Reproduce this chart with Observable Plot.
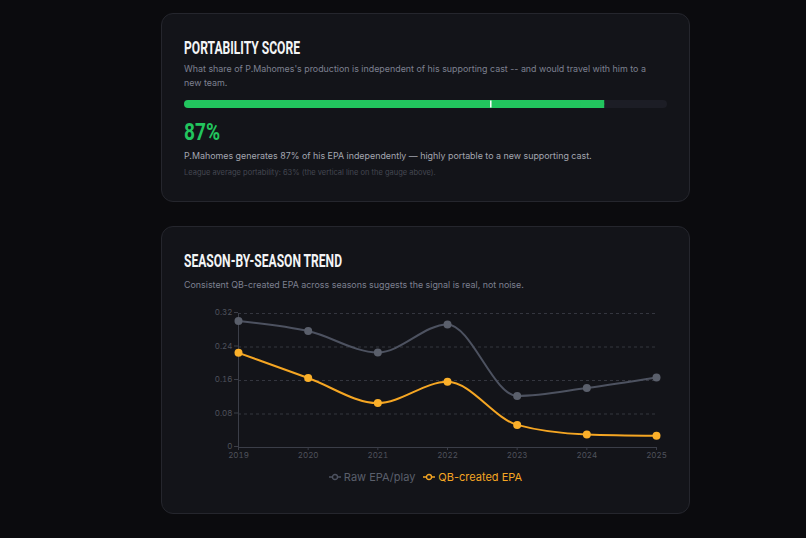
<!DOCTYPE html>
<html>
<head>
<meta charset="utf-8">
<script src="https://cdn.jsdelivr.net/npm/d3@7"></script>
<script src="https://cdn.jsdelivr.net/npm/@observablehq/plot@0.6"></script>
<style>
  html, body { margin: 0; padding: 0; background: #0b0b0e; }
  body { width: 806px; height: 538px; overflow: hidden; position: relative; font-family: Inter, "Noto Sans", sans-serif; }
  .wrap { position: absolute; left: 161px; top: 13px; width: 529px; }
  .card { box-sizing: border-box; background: #131419; border: 1px solid #25262d; border-radius: 12px; padding: 23px 22px 0 22px; }
  .card1 { height: 189px; }
  .card2 { height: 288px; margin-top: 24px; }
  .title { margin: 0; height: 22px; white-space: nowrap; font-family: Roboto, "Liberation Sans", sans-serif; font-weight: 700; font-size: 17.5px; line-height: 22px; color: #f3f4f6; }
  .title span, .big span { display: inline-block; transform-origin: 0 50%; }
  .sub { margin-top: 3px; font-size: 8.9px; line-height: 14px; color: #7d8090; max-width: 468px; }
  .gauge { margin-top: 10px; height: 8px; }
  .gauge svg { display: block; }
  .big { margin-top: 10px; height: 28px; white-space: nowrap; font-family: Roboto, "Liberation Sans", sans-serif; font-weight: 700; font-size: 24px; line-height: 28px; color: #22c55e; }
  .desc { margin-top: 3px; font-size: 8.9px; line-height: 14px; color: #a3a6b0; }
  .league { margin-top: 4px; font-size: 7.5px; line-height: 12px; color: #444751; }
  .sub2 { margin-top: 6px; }
  .chart { margin-top: 8px; height: 167px; }
  .chart svg { display: block; }
  .legend { margin-top: 3px; height: 14px; display: flex; justify-content: center; align-items: center; gap: 8px; font-size: 11px; line-height: 14px; }
  .legend span { display: inline-flex; align-items: center; gap: 3px; }
</style>
</head>
<body>
<div class="wrap">
  <div class="card card1">
    <div class="title"><span data-w="116">PORTABILITY SCORE</span></div>
    <div class="sub">What share of P.Mahomes's production is independent of his supporting cast -- and would travel with him to a new team.</div>
    <div class="gauge" id="gauge"></div>
    <div class="big"><span id="big" data-w="36"></span></div>
    <div class="desc" id="desc"></div>
    <div class="league" id="league"></div>
  </div>
  <div class="card card2">
    <div class="title"><span data-w="158">SEASON-BY-SEASON TREND</span></div>
    <div class="sub sub2">Consistent QB-created EPA across seasons suggests the signal is real, not noise.</div>
    <div class="chart" id="chart"></div>
    <div class="legend" id="legend"></div>
  </div>
</div>
<script>
const player = "P.Mahomes";
const portability = 87;
const leagueAvg = 63;
const seasons = [2019, 2020, 2021, 2022, 2023, 2024, 2025];
const rawEpa = [0.302, 0.278, 0.227, 0.294, 0.123, 0.142, 0.167];
const qbEpa  = [0.226, 0.166, 0.106, 0.157, 0.054, 0.031, 0.028];
const yTicks = [0, 0.08, 0.16, 0.24, 0.32];
const seriesNames = ["Raw EPA/play", "QB-created EPA"];
const seriesColors = ["#4d5260", "#f5a623"];

document.getElementById("big").textContent = portability + "%";
document.getElementById("desc").textContent = player + " generates " + portability + "% of his EPA independently \u2014 highly portable to a new supporting cast.";
document.getElementById("league").textContent = "League average portability: " + leagueAvg + "% (the vertical line on the gauge above).";

// condense display headings to the reference's narrow look
document.querySelectorAll("[data-w]").forEach(el => {
  const w = el.getBoundingClientRect().width;
  if (w > 0) el.style.transform = "scaleX(" + (+el.dataset.w / w) + ")";
});

// Gauge
const gauge = Plot.plot({
  width: 483, height: 8, margin: 0,
  style: { background: "transparent" },
  x: { domain: [0, 100], axis: null },
  marks: [
    Plot.barX([{ a: 0, b: 100 }], { x1: "a", x2: "b", fill: "#1c1d25", rx: 4 }),
    Plot.barX([{ a: 0, b: portability }], { x1: "a", x2: "b", fill: "#22c55e", rx: 4 }),
    Plot.barX([{ a: portability - 5, b: portability }], { x1: "a", x2: "b", fill: "#22c55e" }),
    Plot.ruleX([leagueAvg], { stroke: "#ffffff", strokeWidth: 1.5, dx: 2, insetTop: 0.5, insetBottom: 0.5 })
  ]
});
document.getElementById("gauge").appendChild(gauge);

// Trend chart
const rawRows = seasons.map((s, i) => ({ season: s, value: rawEpa[i], series: seriesNames[0] }));
const qbRows = seasons.map((s, i) => ({ season: s, value: qbEpa[i], series: seriesNames[1] }));

const chart = Plot.plot({
  width: 483, height: 167,
  marginLeft: 54, marginRight: 11, marginTop: 13, marginBottom: 20,
  style: { background: "transparent", fontFamily: "Inter, sans-serif", fontSize: "8px", color: "#4f525c" },
  x: { domain: [seasons[0], seasons[seasons.length - 1]] },
  y: { domain: [0, 0.32] },
  marks: [
    Plot.gridY(yTicks.filter(d => d > 0), { stroke: "#34363f", strokeOpacity: 1, strokeDasharray: "3,3" }),
    Plot.ruleY([0], { stroke: "#3b3e48" }),
    Plot.ruleX([seasons[0]], { stroke: "#3b3e48" }),
    Plot.axisY(yTicks, { tickFormat: d => d === 0 ? "0" : d.toFixed(2), tickSize: 4, tickPadding: 2, dy: -1, stroke: "#3b3e48", fill: "#4f525c", label: null }),
    Plot.axisX(seasons, { tickFormat: d => String(d), tickSize: 3, tickPadding: 2, stroke: "#3b3e48", fill: "#4f525c", label: null }),
    Plot.line(rawRows, { x: "season", y: "value", stroke: seriesColors[0], strokeWidth: 2, curve: "monotone-x" }),
    Plot.dot(rawRows, { x: "season", y: "value", fill: "#5a5f6b", r: 4 }),
    Plot.line(qbRows, { x: "season", y: "value", stroke: seriesColors[1], strokeWidth: 2, curve: "monotone-x" }),
    Plot.dot(qbRows, { x: "season", y: "value", fill: "#fbb02a", r: 4 })
  ]
});
document.getElementById("chart").appendChild(chart);

// Legend
const legend = document.getElementById("legend");
seriesNames.forEach((name, i) => {
  const span = document.createElement("span");
  span.style.color = i === 0 ? "#5a5f6b" : "#f5a623";
  span.innerHTML = '<svg width="12" height="8"><line x1="0" y1="4" x2="12" y2="4" stroke="' + seriesColors[i] + '" stroke-width="1.5"/><circle cx="6" cy="4" r="2.5" fill="#131419" stroke="' + seriesColors[i] + '" stroke-width="1.3"/></svg>';
  span.appendChild(document.createTextNode(name));
  legend.appendChild(span);
});
</script>
</body>
</html>
